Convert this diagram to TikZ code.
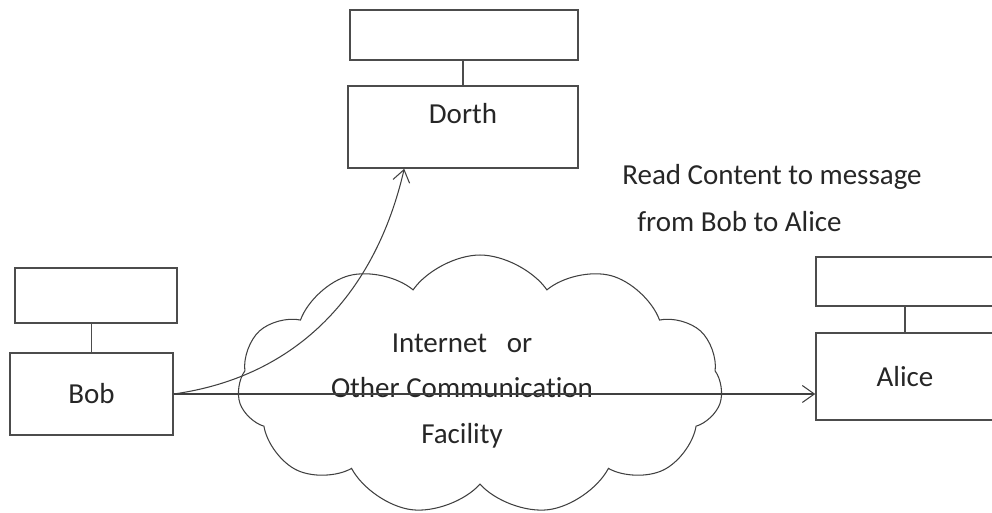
\documentclass[tikz,border=0pt]{standalone}
\usepackage{fontspec}
\setmainfont[Ligatures=NoCommon]{Carlito}
\usetikzlibrary{positioning,shapes.symbols,arrows.meta}

\begin{document}
\begin{tikzpicture}[x=0.02cm, y=-0.02cm,
  every node/.style = {font=\fontsize{16.5}{19}\selectfont, text=black!85},
  box/.style = {shape=rectangle, draw=black!70, line width=0.9pt, inner sep=0pt},
  link/.style = {draw=black!70, line width=0.7pt},
  msg/.style = {draw=black!75, line width=0.6pt,
    -{Straight Barb[length=2.4mm,width=3.4mm]}}]
  \clip (0,0) rectangle (992,513);

  % Bob
  \node[box, minimum width=3.26cm, minimum height=1.64cm] (bob) at (91.5,394) {Bob};
  \node[box, minimum width=3.24cm, minimum height=1.1cm] (bobtop) at (96,295.5) {};
  \draw[link] (bob.north) -- (bob.north |- bobtop.south);

  % Dorth
  \node[box, minimum width=4.6cm, minimum height=1.64cm, text depth=0.55cm] (dorth) at (463,127) {Dorth};
  \node[box, minimum width=4.56cm, minimum height=1.0cm] (dorthtop) at (464,35) {};
  \draw[link] (dorth.north) -- (dorth.north |- dorthtop.south);

  % Alice
  \node[box, minimum width=3.56cm, minimum height=1.74cm] (alice) at (905,376.5) {Alice};
  \node[box, minimum width=3.56cm, minimum height=0.98cm] (alicetop) at (905,281.5) {};
  \draw[link] (alice.north) -- (alice.north |- alicetop.south);

  % network
  \node[cloud, draw=black!75, line width=0.6pt, cloud puffs=11, cloud puff arc=110,
    aspect=1.9, minimum width=9.7cm, minimum height=5.2cm] (net) at (480,385) {};
  \node[align=center, font=\fontsize{16.5}{26}\selectfont] (nettext) at (462,391)
    {Internet\ \ \ or\\Other Communication\\Facility};

  \node[align=left, font=\fontsize{16.5}{26.6}\selectfont] (note) at (772,198)
    {Read Content to message\\\hspace*{0.3cm}from Bob to Alice};

  \coordinate (dorthin) at ([xshift=1.14cm]dorth.south west);
  \draw[msg] (bob.east) -- (bob.east -| alice.west);
  \draw[msg] (bob.east) to[out=8, in=-103] (dorthin);
\end{tikzpicture}
\end{document}
